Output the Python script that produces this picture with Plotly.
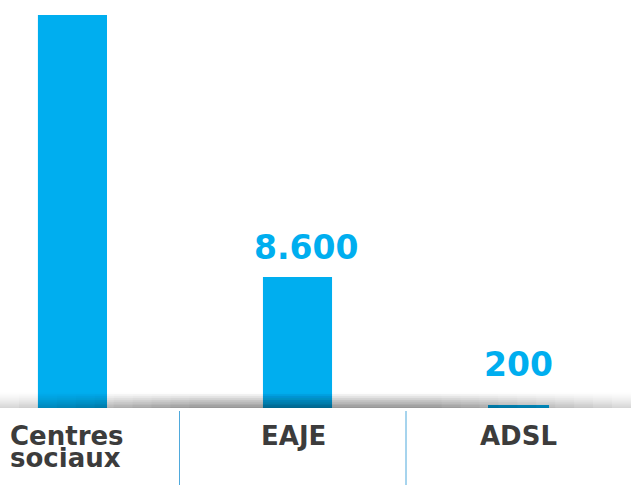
import plotly.graph_objects as go

categories = ["Centres sociaux", "EAJE", "ADSL"]
values = [25800, 8600, 200]
value_labels = ["", "8.600", "200"]
bar_widths = [0.307, 0.307, 0.271]
bar_offsets = [-0.1535, -0.1535, -0.1533]
label_xshift = [0, 8, -4]    # px
label_yshift = [0, 12, 23]   # px above bar top

BLUE = "#00aeef"
DARK = "#3c3c3c"
PLOT_H = 393.0  # plot area height in px


def py(px_below):
    return -px_below / PLOT_H


fig = go.Figure()
fig.add_trace(go.Bar(
    x=categories, y=values, width=bar_widths, offset=bar_offsets,
    marker=dict(color=BLUE, line=dict(width=0)),
    hoverinfo="skip",
))

shapes = []
# baseline shadow gradient (above the baseline, darkest at the bottom)
N = 16
layers = [(0.0, 1.0, 0.16)]
K = 10
for k in range(K):
    f = (k + 1) / K
    layers.append((0.0 + 0.30 * f, 1.0 - 0.30 * f, 0.032))
for x0, x1, amax in layers:
    for i in range(N):
        t = i / N
        shapes.append(dict(type="rect", xref="paper", yref="paper",
                           x0=x0, x1=x1, y0=i / PLOT_H, y1=(i + 1) / PLOT_H,
                           fillcolor="black", opacity=amax * (1 - t) ** 1.4,
                           line=dict(width=0), layer="above"))
# separators
for xs in [179.5 / 631, 406 / 631]:
    shapes.append(dict(type="line", xref="paper", yref="paper", x0=xs, x1=xs,
                       y0=py(3), y1=py(80), line=dict(color="#4fa9dc", width=1)))

val_font = dict(family="'DejaVu Sans', sans-serif", size=33, color=BLUE, weight="bold")
lab_font = dict(family="'DejaVu Sans', sans-serif", size=26, color=DARK, weight="bold")

annotations = []
for c, v, t, xs, ys in zip(categories, values, value_labels, label_xshift, label_yshift):
    if t:
        annotations.append(dict(text=t, x=c, y=v, xref="x", yref="y", xanchor="center",
                                yanchor="bottom", xshift=xs, yshift=ys - 4, showarrow=False,
                                font=val_font))

cat_ann = [
    dict(text="Centres", x=8 / 631, xref="paper", xanchor="left", y=py(11), xshift=0),
    dict(text="sociaux", x=8 / 631, xref="paper", xanchor="left", y=py(33), xshift=0),
    dict(text="EAJE", x=categories[1], xref="x", xanchor="center", y=py(11), xshift=-4),
    dict(text="ADSL", x=categories[2], xref="x", xanchor="center", y=py(11), xshift=-4),
]
for a in cat_ann:
    a["yref"] = "paper"
    a["yanchor"] = "top"
    a["showarrow"] = False
    a["font"] = lab_font
annotations += cat_ann

fig.update_layout(
    width=631, height=485,
    margin=dict(l=0, r=0, t=15, b=77),
    paper_bgcolor="white", plot_bgcolor="white",
    showlegend=False,
    xaxis=dict(range=[-0.322, 2.482], showticklabels=False, showgrid=False, zeroline=False, showline=False),
    yaxis=dict(range=[0, 25800], visible=False),
    shapes=shapes, annotations=annotations,
)
fig.write_html("out.html", config={"displayModeBar": False},
               post_script="document.body.style.margin='0';")
